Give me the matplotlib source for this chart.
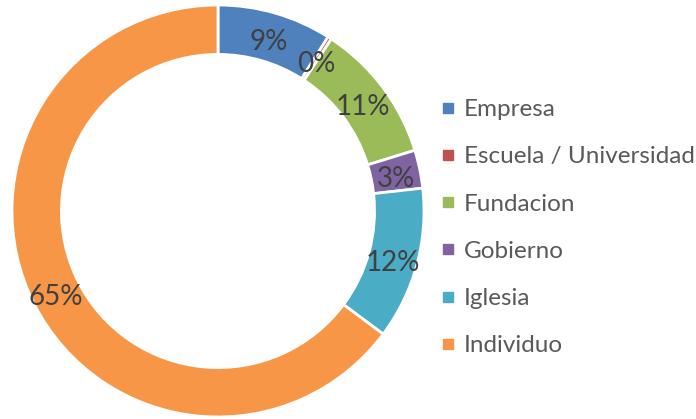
import matplotlib
matplotlib.use("Agg")
import matplotlib.pyplot as plt
from matplotlib.lines import Line2D

categories = ["Empresa", "Escuela / Universidad", "Fundacion", "Gobierno", "Iglesia", "Individuo"]
values = [9, 0.3, 11, 3, 12, 65]
colors = ["#4F81BD", "#C0504D", "#9BBB59", "#8064A2", "#4BACC6", "#F79646"]

plt.rcParams['font.family'] = ['Lato', 'DejaVu Sans']

W, H = 696, 419
fig = plt.figure(figsize=(W / 100, H / 100), dpi=100)
cx, cy, r = 218, 211, 206
ax = fig.add_axes([(cx - r) / W, (H - cy - r) / H, 2 * r / W, 2 * r / H])

wedges, texts, autotexts = ax.pie(
    values, colors=colors, startangle=90, counterclock=False,
    autopct='%.0f%%', pctdistance=0.88, radius=1.0,
    wedgeprops=dict(width=0.24, edgecolor='white', linewidth=2),
    textprops=dict(color='#404040', fontsize=20))
ax.set_xlim(-1, 1)
ax.set_ylim(-1, 1)
ax.set_aspect('equal')
ax.axis('off')

# the original's labels sit slightly lower in the ring
for t in autotexts:
    x, y = t.get_position()
    t.set_position((x, y - 0.024))

handles = [Line2D([0], [0], marker='s', linestyle='none', markersize=7.5,
                  markerfacecolor=c, markeredgecolor=c) for c in colors]
fig.legend(handles, categories, loc='upper left', bbox_to_anchor=(441 / W, 1 - 99 / H),
           frameon=False, fontsize=17.5, labelcolor='#595959', labelspacing=1.08,
           handlelength=0.55, handletextpad=0.4, borderpad=0, borderaxespad=0)

fig.savefig("out.png", dpi=100)
